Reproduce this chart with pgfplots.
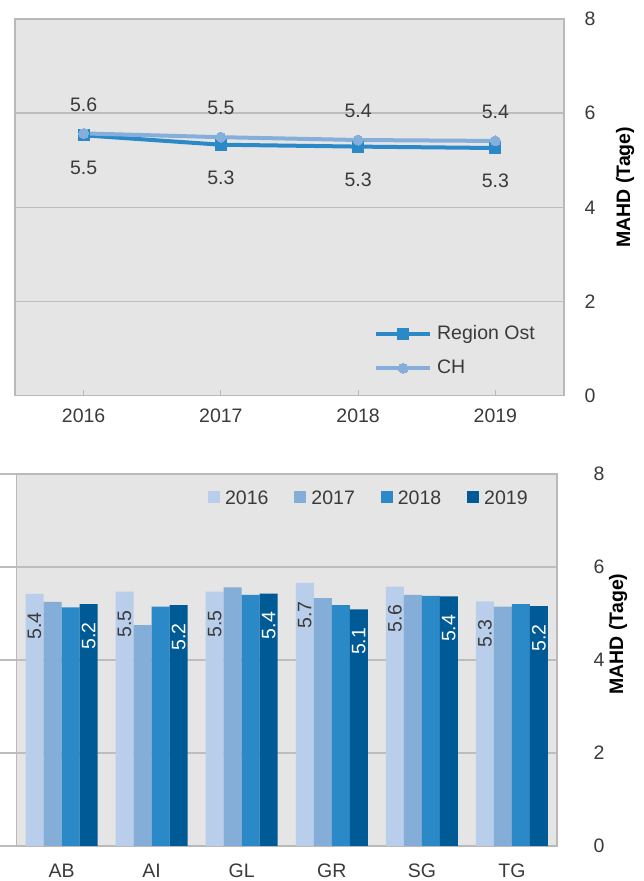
\documentclass[border=0pt]{standalone}
\usepackage{pgfplots}
\pgfplotsset{compat=1.18}
\usepackage{pgfplotstable}
\usepackage{fontspec}
\setmainfont{Liberation Sans}
\definecolor{bgc}{HTML}{E5E5E5}
\definecolor{brd}{HTML}{B9B9B9}
\definecolor{grd}{HTML}{BDBDBD}
\definecolor{txt}{HTML}{3A3A3A}
\definecolor{ost}{HTML}{2C89C8}
\definecolor{chc}{HTML}{85AEDB}
\definecolor{c16}{HTML}{B8CEEA}
\definecolor{c17}{HTML}{84ADD8}
\definecolor{c18}{HTML}{2C89C8}
\definecolor{c19}{HTML}{005A96}

\pgfplotstableread{
x y lab
0 5.53 5.5
1 5.33 5.3
2 5.29 5.3
3 5.26 5.3
}\ostdata
\pgfplotstableread{
x y lab
0 5.57 5.6
1 5.49 5.5
2 5.43 5.4
3 5.41 5.4
}\chdata
\pgfplotstableread{
x y lab
0 5.42 5.4
1 5.47 5.5
2 5.47 5.5
3 5.66 5.7
4 5.58 5.6
5 5.26 5.3
}\ysixteen
\pgfplotstableread{
x y
0 5.25
1 4.75
2 5.56
3 5.33
4 5.40
5 5.15
}\yseventeen
\pgfplotstableread{
x y
0 5.13
1 5.15
2 5.40
3 5.18
4 5.38
5 5.20
}\yeighteen
\pgfplotstableread{
x y lab
0 5.20 5.2
1 5.18 5.2
2 5.43 5.4
3 5.09 5.1
4 5.37 5.4
5 5.16 5.2
}\ynineteen

\newcommand{\fs}{\fontsize{19.5}{22}\selectfont}

\pgfplotsset{base/.style={
  scale only axis,
  axis background/.style={fill=bgc},
  axis line style={draw=brd, line width=1.5pt},
  ymin=0, ymax=8, ytick={0,2,4,6,8},
  yticklabel pos=right,
  ymajorgrids, grid style={draw=grd, line width=1.5pt},
  tick label style={font=\fs, text=txt},
  /pgf/number format/assume math mode=true,
  yticklabel style={anchor=center, xshift=26pt},
  ylabel={MAHD (Tage)},
  every axis y label/.style={at={(rel axis cs:1,0.5)}, xshift=61pt, yshift=20pt, rotate=90, anchor=center, font=\fs\bfseries, text=black},
  legend cell align=left,
  legend style={draw=none, fill=none, font=\fs, text=txt, inner sep=0pt, nodes={inner sep=0pt}},
}}

\begin{document}
\begin{tikzpicture}
\useasboundingbox (0,0) rectangle (644pt,881pt);

% ---------- top: line chart ----------
\begin{axis}[base,
  at={(15pt,485.3pt)}, anchor=south west,
  width=549pt, height=376.7pt,
  xmin=-0.5, xmax=3.5, xtick={0,1,2,3},
  xticklabels={2016,2017,2018,2019},
  xticklabel style={anchor=center, yshift=-20pt},
  ytick style={draw=none},
  xtick style={draw=brd, line width=1.2pt},
  tick align=inside, major tick length=6pt,
  xtick pos=bottom,
  point meta=explicit symbolic,
  legend style={at={(0.947,0.118)}, anchor=east, row sep=16pt,
    nodes={inner sep=0pt, text height=14pt, text depth=4pt},
    /tikz/every odd column/.append style={column sep=5pt}},
  legend image code/.code={\draw[#1, mark repeat=2, mark phase=2] plot coordinates {(0pt,0pt) (27pt,0pt) (54pt,0pt)};},
]
\addplot[ost, line width=4pt, mark=square*, mark size=5.5pt, mark options={solid, line width=0pt, fill=ost},
  nodes near coords, nodes near coords style={anchor=center, yshift=-33pt, font=\fs, text=txt}]
  table[x=x, y=y, meta=lab] {\ostdata};
\addlegendentry{Region Ost}
\addplot[chc, line width=4pt, mark=*, mark size=5pt, mark options={solid, line width=0pt, fill=chc},
  nodes near coords, nodes near coords style={anchor=center, yshift=29pt, font=\fs, text=txt}]
  table[x=x, y=y, meta=lab] {\chdata};
\addlegendentry{CH}
\end{axis}

% ---------- bottom: bar chart ----------
\begin{axis}[base,
  at={(16.5pt,35pt)}, anchor=south west,
  width=540.5pt, height=372pt,
  every axis y label/.append style={xshift=6pt},
  yticklabel style={xshift=-1pt},
  ybar=0pt, bar width=18pt,
  xmin=-0.5, xmax=5.5, xtick={0,1,2,3,4,5},
  xticklabels={AB,AI,GL,GR,SG,TG},
  xticklabel style={anchor=center, yshift=-8pt},
  xtick style={draw=none},
  ytick pos=left, tick align=outside, major tick length=17pt,
  ytick style={draw=grd, line width=1.5pt},
  legend columns=4,
  legend style={at={(0.946,0.938)}, anchor=east,
    nodes={inner sep=0pt, text height=14pt, text depth=0pt},
    /tikz/every odd column/.append style={column sep=5pt},
    /tikz/every even column/.append style={column sep=26pt}},
  legend image code/.code={\fill[#1, draw=none] (0pt,-6pt) rectangle (12pt,6pt);},
]
\addplot[fill=c16, draw=none, point meta=explicit symbolic,
  nodes near coords, nodes near coords style={yshift=-15pt, rotate=90, anchor=east, font=\fs, text=txt}]
  table[x=x, y=y, meta=lab] {\ysixteen};
\addlegendentry{2016}
\addplot[fill=c17, draw=none] table[x=x, y=y] {\yseventeen};
\addlegendentry{2017}
\addplot[fill=c18, draw=none] table[x=x, y=y] {\yeighteen};
\addlegendentry{2018}
\addplot[fill=c19, draw=none, point meta=explicit symbolic,
  nodes near coords, nodes near coords style={yshift=-15pt, rotate=90, anchor=east, font=\fs, text=white}]
  table[x=x, y=y, meta=lab] {\ynineteen};
\addlegendentry{2019}
\end{axis}
\end{tikzpicture}
\end{document}
